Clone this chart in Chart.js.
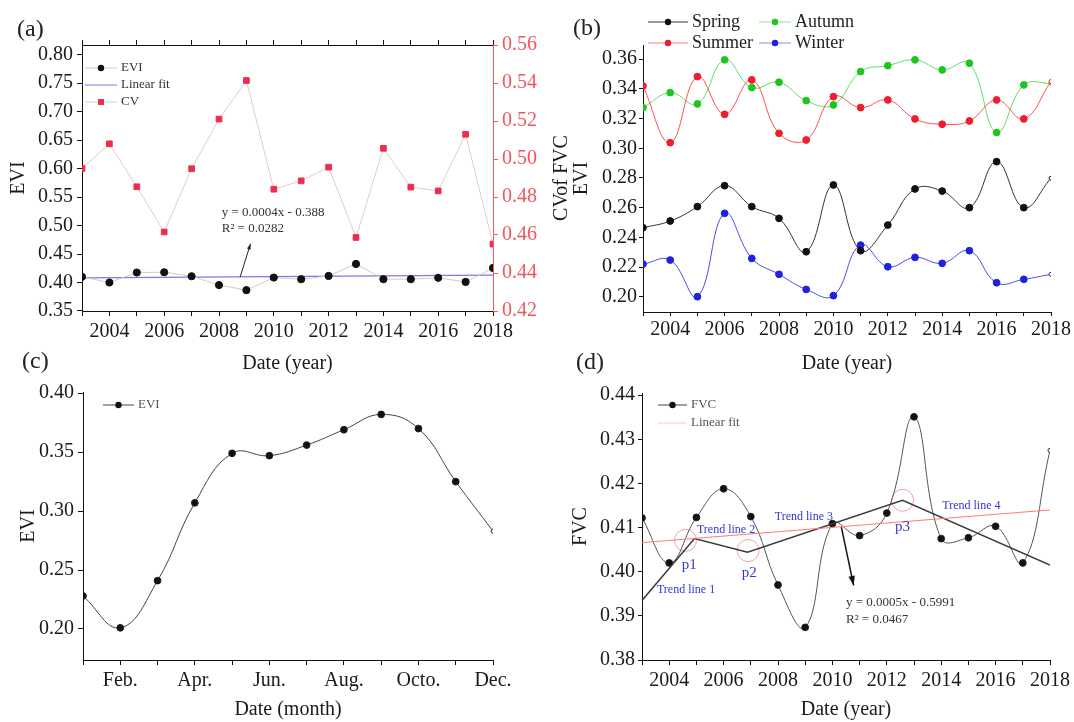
<!DOCTYPE html>
<html lang="en">
<head>
<meta charset="UTF-8">
<title>EVI and FVC, 2003-2018</title>
<script src="https://cdn.jsdelivr.net/npm/chart.js"></script>
<style>
    body { margin: 0; background: #fff; }
    .wrap { position: relative; width: 1074px; height: 722px; overflow: hidden; background: #fff; }
    .wrap canvas { position: absolute; }
    .tag { position: absolute; font-family: 'Liberation Serif', serif; font-size: 24px; line-height: 1; color: #222; }
</style>
</head>
<body>
<div class="wrap">
    <canvas id="chartA" style="left:0;top:0" width="580" height="380"></canvas>
    <canvas id="chartB" style="left:537px;top:0" width="537" height="380"></canvas>
    <canvas id="chartC" style="left:0;top:370px" width="540" height="352"></canvas>
    <canvas id="chartD" style="left:537px;top:370px" width="537" height="352"></canvas>
    <div class="tag" style="left:17px;top:16px">(a)</div>
    <div class="tag" style="left:573px;top:15px">(b)</div>
    <div class="tag" style="left:22px;top:348px">(c)</div>
    <div class="tag" style="left:576px;top:349px">(d)</div>
</div>

<script>
// ---- data ----
const years = [2003, 2004, 2005, 2006, 2007, 2008, 2009, 2010, 2011, 2012, 2013, 2014, 2015, 2016, 2017, 2018];

// (a) annual EVI and CV of FVC
const aEvi = [0.410, 0.400, 0.4175, 0.418, 0.411, 0.3955, 0.3866, 0.4087, 0.4058, 0.4115, 0.4326, 0.4058, 0.4058, 0.4082, 0.401, 0.4255];
const aCv = [0.495, 0.508, 0.4854, 0.4616, 0.4949, 0.521, 0.5413, 0.4841, 0.4885, 0.4957, 0.4587, 0.5056, 0.4852, 0.4832, 0.513, 0.4552];
const aFitX = [2003, 2018];
const aFitY = [0.408, 0.413];

// (b) seasonal EVI
const bSpring = [0.2465, 0.251, 0.2607, 0.2748, 0.2607, 0.2528, 0.2303, 0.2753, 0.231, 0.2483, 0.2726, 0.2712, 0.260, 0.291, 0.260, 0.2798];
const bSummer = [0.342, 0.3038, 0.3483, 0.3229, 0.3461, 0.3101, 0.3056, 0.3348, 0.3274, 0.3326, 0.3198, 0.3162, 0.3184, 0.3326, 0.3198, 0.345];
const bAutumn = [0.3274, 0.3375, 0.3299, 0.3596, 0.3409, 0.3445, 0.3321, 0.3292, 0.3517, 0.3557, 0.3596, 0.3528, 0.3573, 0.3106, 0.3427, 0.3438];
const bWinter = [0.222, 0.2247, 0.200, 0.2562, 0.2258, 0.2151, 0.2049, 0.2007, 0.2348, 0.2202, 0.2265, 0.2225, 0.231, 0.2094, 0.2117, 0.2151];

// (c) monthly EVI
const months = [1, 2, 3, 4, 5, 6, 7, 8, 9, 10, 11, 12];
const cEvi = [0.228, 0.201, 0.241, 0.307, 0.349, 0.347, 0.356, 0.369, 0.382, 0.370, 0.325, 0.283];
const monthTickVals = [2, 4, 6, 8, 10, 12];
const monthTickText = ['Feb.', 'Apr.', 'Jun.', 'Aug.', 'Octo.', 'Dec.'];

// (d) annual FVC, linear fit, piecewise trend lines, turning points
const dFvc = [0.4122, 0.402, 0.4123, 0.4188, 0.4125, 0.397, 0.3874, 0.4109, 0.4082, 0.4133, 0.4351, 0.4075, 0.4077, 0.4103, 0.402, 0.4275];
const dFitX = [2003, 2018];
const dFitY = [0.4066, 0.414];
const dTrendX = [2003, 2004.93, 2006.88, 2012.58, 2018];
const dTrendY = [0.3935, 0.4075, 0.4044, 0.4162, 0.4015];
const dTurnX = [2004.6, 2006.9, 2012.58];
const dTurnY = [0.4071, 0.4048, 0.4162];

// ---- helpers ----
const serif = "'Liberation Serif', 'Times New Roman', serif";
Chart.defaults.font.family = serif;
Chart.defaults.color = '#1a1a1a';

const pts = (xs, ys) => xs.map((x, i) => ({x: x, y: ys[i]}));
const yearLabel = v => (v % 2 === 0 ? String(v) : '');
const monthLabel = v => monthTickText[monthTickVals.indexOf(v)] || '';
const fixed2 = v => v.toFixed(2);

function lastSmall(r) {
    return ctx => (ctx.dataIndex === ctx.dataset.data.length - 1 ? 2 : r);
}
function lastWhite(c) {
    return ctx => (ctx.dataIndex === ctx.dataset.data.length - 1 ? '#fff' : c);
}

function xAxis(opts) {
    return {
        type: 'linear',
        position: opts.position || 'bottom',
        min: opts.min, max: opts.max,
        afterFit: s => { s.height = opts.h; },
        ticks: {
            display: opts.labels !== false,
            stepSize: 1, autoSkip: false, maxRotation: 0, includeBounds: false,
            callback: opts.cb, padding: opts.pad || 4,
            font: {size: 20}, color: '#1a1a1a'
        },
        grid: {drawOnChartArea: false, tickLength: opts.tl || 5, color: '#111'},
        border: {display: true, color: '#111', width: 1},
        title: opts.title ? {display: true, text: opts.title, font: {size: 20}, color: '#1a1a1a',
                             padding: {top: 0, bottom: opts.tpad}} : {display: false}
    };
}

function yAxis(opts) {
    const col = opts.color || '#111';
    return {
        type: 'linear',
        position: opts.position || 'left',
        min: opts.min, max: opts.max,
        afterFit: s => { s.width = opts.w; },
        ticks: {
            stepSize: opts.step, includeBounds: false, callback: fixed2,
            padding: opts.pad || 4, font: {size: 20}, color: opts.tcolor || '#1a1a1a'
        },
        grid: {drawOnChartArea: false, tickLength: opts.tl || 5, color: col},
        border: {display: true, color: col, width: 1},
        title: opts.title ? {display: true, text: opts.title, font: {size: 20}, color: '#1a1a1a',
                             padding: {top: opts.tpad, bottom: 0}} : {display: false}
    };
}

function drawArrow(ctx, x1, y1, x2, y2, head) {
    ctx.beginPath();
    ctx.moveTo(x1, y1);
    ctx.lineTo(x2, y2);
    ctx.stroke();
    const a = Math.atan2(y2 - y1, x2 - x1);
    ctx.beginPath();
    ctx.moveTo(x2, y2);
    ctx.lineTo(x2 - head * Math.cos(a - 0.33), y2 - head * Math.sin(a - 0.33));
    ctx.lineTo(x2 - head * Math.cos(a + 0.33), y2 - head * Math.sin(a + 0.33));
    ctx.closePath();
    ctx.fill();
}

// legends, notes, arrows and a rotated side title drawn on top of each panel
const extras = {
    id: 'extras',
    afterDatasetsDraw(chart, args, opts) {
        const ctx = chart.ctx;
        const xs = chart.scales.x;
        ctx.save();
        (opts.legend || []).forEach(it => {
            ctx.strokeStyle = it.line;
            ctx.lineWidth = it.lw || 1;
            ctx.beginPath();
            ctx.moveTo(it.x1, it.y);
            ctx.lineTo(it.x2, it.y);
            ctx.stroke();
            const mx = (it.x1 + it.x2) / 2;
            if (it.marker === 'circle') {
                ctx.fillStyle = it.mcolor;
                ctx.beginPath();
                ctx.arc(mx, it.y, 3.2, 0, Math.PI * 2);
                ctx.fill();
            } else if (it.marker === 'rect') {
                ctx.fillStyle = it.mcolor;
                ctx.fillRect(mx - 3, it.y - 3, 6, 6);
            }
            ctx.fillStyle = it.tcolor || '#333';
            ctx.font = it.font;
            ctx.textAlign = 'left';
            ctx.textBaseline = 'middle';
            ctx.fillText(it.label, it.x2 + 4, it.y);
        });
        (opts.notes || []).forEach(n => {
            const ys = chart.scales[n.axis || 'y'];
            ctx.fillStyle = n.color || '#333';
            ctx.font = n.font;
            ctx.textAlign = n.align || 'left';
            ctx.textBaseline = 'middle';
            ctx.fillText(n.text, xs.getPixelForValue(n.x), ys.getPixelForValue(n.y));
        });
        (opts.arrows || []).forEach(a => {
            const ys = chart.scales[a.axis || 'y'];
            ctx.strokeStyle = a.color || '#222';
            ctx.fillStyle = a.color || '#222';
            ctx.lineWidth = a.lw || 1;
            drawArrow(ctx, xs.getPixelForValue(a.x1), ys.getPixelForValue(a.y1),
                      xs.getPixelForValue(a.x2), ys.getPixelForValue(a.y2), a.head || 7);
        });
        if (opts.sideTitle) {
            const t = opts.sideTitle;
            const area = chart.chartArea;
            ctx.translate(t.x, (area.top + area.bottom) / 2);
            ctx.rotate(-Math.PI / 2);
            ctx.fillStyle = '#1a1a1a';
            ctx.font = t.font;
            ctx.textAlign = 'center';
            ctx.textBaseline = 'middle';
            ctx.fillText(t.text, 0, 0);
        }
        ctx.restore();
    }
};
Chart.register(extras);

const small = "13px " + serif;

// ---- (a) ----
new Chart(document.getElementById('chartA'), {
    type: 'line',
    data: {
        datasets: [
            {label: 'EVI', data: pts(years, aEvi), yAxisID: 'y', borderColor: '#d6ccb6', borderWidth: 1,
             pointRadius: 3.6, pointBackgroundColor: '#111', pointBorderColor: '#111', tension: 0},
            {label: 'Linear fit', data: pts(aFitX, aFitY), yAxisID: 'y', borderColor: '#7a78f0', borderWidth: 1.2,
             pointRadius: 0, tension: 0},
            {label: 'CV', data: pts(years, aCv), yAxisID: 'y2', borderColor: '#e6c9c9', borderWidth: 1,
             pointStyle: 'rect', pointRadius: 4, pointBackgroundColor: '#ee2d4e', pointBorderColor: '#ee2d4e', tension: 0}
        ]
    },
    options: {
        responsive: false, animation: false,
        layout: {padding: 0},
        plugins: {
            legend: {display: false}, tooltip: {enabled: false},
            extras: {
                legend: [
                    {x1: 85, x2: 117, y: 68, line: '#d6ccb6', marker: 'circle', mcolor: '#111', label: 'EVI', font: small},
                    {x1: 85, x2: 117, y: 85, line: '#7a78f0', label: 'Linear fit', font: small},
                    {x1: 85, x2: 117, y: 102, line: '#e6c9c9', marker: 'rect', mcolor: '#ee2d4e', label: 'CV', font: small}
                ],
                notes: [
                    {x: 2008.1, y: 0.5235, text: 'y = 0.0004x - 0.388', font: small},
                    {x: 2008.1, y: 0.4945, text: 'R\u00B2 = 0.0282', font: small}
                ],
                arrows: [{x1: 2008.77, y1: 0.4095, x2: 2009.15, y2: 0.468, head: 6}],
                sideTitle: {x: 562, text: 'CVof FVC', font: "20px " + serif}
            }
        },
        scales: {
            x: xAxis({min: 2003, max: 2018, h: 69, cb: yearLabel, title: 'Date (year)', tpad: 4}),
            xTop: xAxis({min: 2003, max: 2018, h: 45, position: 'top', labels: false, cb: yearLabel}),
            y: yAxis({min: 0.35, max: 0.8167, step: 0.05, w: 82, title: 'EVI', tpad: 7}),
            y2: yAxis({min: 0.42, max: 0.56, step: 0.02, w: 87, position: 'right',
                       color: '#ff5a5a', tcolor: '#f2555f'})
        }
    }
});

// ---- (b) ----
function seasonSet(label, vals, line, mark) {
    return {label: label, data: pts(years, vals), borderColor: line, borderWidth: 1, tension: 0.42,
            pointRadius: lastSmall(3.4), pointBackgroundColor: lastWhite(mark),
            pointBorderColor: mark, pointBorderWidth: 1};
}
const legendB = "18px " + serif;
new Chart(document.getElementById('chartB'), {
    type: 'line',
    data: {
        datasets: [
            seasonSet('Spring', bSpring, '#333', '#111'),
            seasonSet('Summer', bSummer, '#ff5050', '#ee1c2c'),
            seasonSet('Autumn', bAutumn, '#5ee05e', '#1fc41f'),
            seasonSet('Winter', bWinter, '#4a4af5', '#2020e0')
        ]
    },
    options: {
        responsive: false, animation: false,
        layout: {padding: {left: 26, right: 23, top: 45, bottom: 0}},
        plugins: {
            legend: {display: false}, tooltip: {enabled: false},
            extras: {
                legend: [
                    {x1: 111, x2: 151, y: 22, line: '#333', marker: 'circle', mcolor: '#111', label: 'Spring', font: legendB, tcolor: '#222'},
                    {x1: 111, x2: 151, y: 43, line: '#ff8080', marker: 'circle', mcolor: '#ee1c2c', label: 'Summer', font: legendB, tcolor: '#222'},
                    {x1: 222, x2: 254, y: 22, line: '#8ee88e', marker: 'circle', mcolor: '#1fc41f', label: 'Autumn', font: legendB, tcolor: '#222'},
                    {x1: 222, x2: 254, y: 43, line: '#8a8af5', marker: 'circle', mcolor: '#2020e0', label: 'Winter', font: legendB, tcolor: '#222'}
                ]
            }
        },
        scales: {
            x: xAxis({min: 2003, max: 2018, h: 68, cb: yearLabel, title: 'Date (year)', tpad: 4, tl: 4, pad: 2}),
            y: yAxis({min: 0.1897, max: 0.3696, step: 0.02, w: 80, title: 'EVI', tpad: 7, tl: 4, pad: 2})
        }
    }
});

// ---- (c) ----
new Chart(document.getElementById('chartC'), {
    type: 'line',
    data: {
        datasets: [
            {label: 'EVI', data: pts(months, cEvi), borderColor: '#444', borderWidth: 1, tension: 0.42,
             pointRadius: lastSmall(3.4), pointBackgroundColor: lastWhite('#111'), pointBorderColor: '#222'}
        ]
    },
    options: {
        responsive: false, animation: false,
        layout: {padding: {left: 0, right: 47, top: 22, bottom: 0}},
        plugins: {
            legend: {display: false}, tooltip: {enabled: false},
            extras: {
                legend: [{x1: 103, x2: 134, y: 35, line: '#444', marker: 'circle', mcolor: '#111', label: 'EVI', font: small, tcolor: '#555'}]
            }
        },
        scales: {
            x: xAxis({min: 1, max: 12, h: 62, cb: monthLabel, title: 'Date (month)', tpad: 0}),
            y: yAxis({min: 0.1737, max: 0.401, step: 0.05, w: 83, title: 'EVI', tpad: 17})
        }
    }
});

// ---- (d) ----
const trendFont = "12px " + serif;
const pFont = "15px " + serif;
const blue = '#3535d8';
new Chart(document.getElementById('chartD'), {
    type: 'line',
    data: {
        datasets: [
            {label: 'Linear fit', data: pts(dFitX, dFitY), borderColor: '#ff7a7a', borderWidth: 1, pointRadius: 0, tension: 0},
            {label: 'Trend', data: pts(dTrendX, dTrendY), borderColor: '#3a3a3a', borderWidth: 1.5, pointRadius: 0, tension: 0},
            {label: 'FVC', data: pts(years, dFvc), borderColor: '#555', borderWidth: 1, tension: 0.42,
             pointRadius: lastSmall(3.4), pointBackgroundColor: lastWhite('#111'), pointBorderColor: '#222'},
            {label: 'Turning points', data: pts(dTurnX, dTurnY), showLine: false, pointRadius: 11,
             pointBackgroundColor: 'rgba(0,0,0,0)', pointBorderColor: '#f0a3a3', pointBorderWidth: 1}
        ]
    },
    options: {
        responsive: false, animation: false,
        layout: {padding: {left: 25, right: 22, top: 23, bottom: 0}},
        plugins: {
            legend: {display: false}, tooltip: {enabled: false},
            extras: {
                legend: [
                    {x1: 121, x2: 150, y: 35, line: '#444', marker: 'circle', mcolor: '#111', label: 'FVC', font: small, tcolor: '#555'},
                    {x1: 121, x2: 150, y: 53, line: '#f6c8c8', label: 'Linear fit', font: small, tcolor: '#555'}
                ],
                notes: [
                    {x: 2004.62, y: 0.3959, text: 'Trend line 1', font: trendFont, color: blue, align: 'center'},
                    {x: 2006.09, y: 0.4094, text: 'Trend line 2', font: trendFont, color: blue, align: 'center'},
                    {x: 2008.95, y: 0.4125, text: 'Trend line 3', font: trendFont, color: blue, align: 'center'},
                    {x: 2015.11, y: 0.4149, text: 'Trend line 4', font: trendFont, color: blue, align: 'center'},
                    {x: 2004.74, y: 0.4016, text: 'p1', font: pFont, color: blue, align: 'center'},
                    {x: 2006.94, y: 0.3997, text: 'p2', font: pFont, color: blue, align: 'center'},
                    {x: 2012.58, y: 0.4101, text: 'p3', font: pFont, color: blue, align: 'center'},
                    {x: 2010.5, y: 0.3929, text: 'y = 0.0005x - 0.5991', font: small},
                    {x: 2010.5, y: 0.3891, text: 'R\u00B2 = 0.0467', font: small}
                ],
                arrows: [{x1: 2010.33, y1: 0.4101, x2: 2010.78, y2: 0.3969, head: 10, lw: 1.5, color: '#111'}]
            }
        },
        scales: {
            x: xAxis({min: 2003, max: 2018, h: 62, cb: yearLabel, title: 'Date (year)', tpad: 0}),
            y: yAxis({min: 0.38, max: 0.4405, step: 0.01, w: 80, title: 'FVC', tpad: 7, tl: 4, pad: 3})
        }
    }
});
</script>
</body>
</html>
